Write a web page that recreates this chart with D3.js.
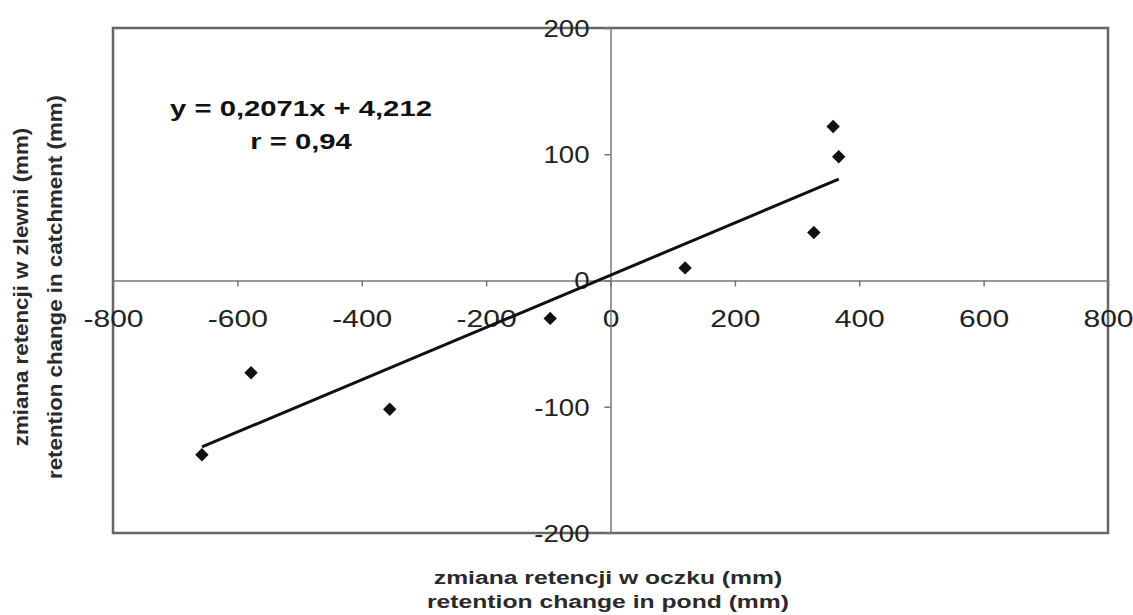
<!DOCTYPE html>
<html>
<head>
<meta charset="utf-8">
<script src="https://cdn.jsdelivr.net/npm/d3@7"></script>
<style>
  body { margin: 0; background: #fff; }
  svg { font-family: "Liberation Sans", Arial, sans-serif; }
</style>
</head>
<body>
<div id="chart"></div>
<script>
// retention change in pond (x) vs in catchment (y), mm
const pondChange = [-657, -578, -355, -97, 120, 327, 358, 367];
const catchmentChange = [-138, -73, -102, -30, 10, 38, 122, 98];

const xTicks = [-800, -600, -400, -200, 0, 200, 400, 600, 800];
const yTicks = [-200, -100, 0, 100, 200];

const slope = 0.2071;
const intercept = 4.212;
const eqLines = ["y = 0,2071x + 4,212", "r = 0,94"];

const xTitle = ["zmiana retencji w oczku (mm)", "retention change in pond (mm)"];
const yTitle = ["zmiana retencji w zlewni (mm)", "retention change in catchment (mm)"];

width = 1133;
height = 615;

// plain hyphen minus, like the original
function tickFmt(d) {
  return String(d);
}

const svg = d3.select("#chart")
  .append("svg")
  .attr("width", width)
  .attr("height", height);

const x = d3.scaleLinear().domain([-800, 800]).range([113, 1108]);
const y = d3.scaleLinear().domain([-200, 200]).range([533, 28]);

// plot frame
svg.append("rect")
  .attr("x", x(-800))
  .attr("y", y(200))
  .attr("width", x(800) - x(-800))
  .attr("height", y(-200) - y(200))
  .attr("fill", "none")
  .attr("stroke", "#666")
  .attr("stroke-width", 2.5);

// x axis through y = 0
const gx = svg.append("g")
  .attr("transform", `translate(0,${y(0)})`)
  .call(d3.axisBottom(x).tickValues(xTicks).tickFormat(tickFmt).tickSize(6).tickSizeOuter(0));
gx.select(".domain").attr("stroke", "#777").attr("stroke-width", 1.5);
gx.selectAll(".tick line").attr("stroke", "#777").attr("stroke-width", 1.5);
gx.selectAll(".tick text")
  .attr("y", 47)
  .attr("dy", null)
  .attr("transform", "scale(1.25,1)")
  .attr("fill", "#222")
  .style("font-size", "24px");

// y axis through x = 0
const gy = svg.append("g")
  .attr("transform", `translate(${x(0)},0)`)
  .call(d3.axisLeft(y).tickValues(yTicks).tickFormat(tickFmt).tickSize(6).tickSizeOuter(0));
gy.select(".domain").attr("stroke", "#777").attr("stroke-width", 1.5);
gy.selectAll(".tick line").attr("stroke", "#777").attr("stroke-width", 1.5);
gy.selectAll(".tick text")
  .attr("x", -21 / 1.15)
  .attr("dy", "0.35em")
  .attr("transform", "scale(1.15,1)")
  .attr("fill", "#222")
  .style("font-size", "24px");

// trend line over the data range
const xr = d3.extent(pondChange);
svg.append("path")
  .datum(xr.map(v => [v, slope * v + intercept]))
  .attr("fill", "none")
  .attr("stroke", "#111")
  .attr("stroke-width", 3)
  .attr("d", d3.line().x(d => x(d[0])).y(d => y(d[1])));

// diamond markers
svg.append("g")
  .selectAll("path")
  .data(pondChange.map((v, i) => [v, catchmentChange[i]]))
  .join("path")
    .attr("transform", d => `translate(${x(d[0])},${y(d[1])})`)
    .attr("d", d3.symbol(d3.symbolDiamond2, 115))
    .attr("fill", "#111");

// regression equation
svg.append("g")
  .selectAll("text")
  .data(eqLines)
  .join("text")
    .attr("transform", (d, i) => `translate(301,${i ? 149 : 116}) scale(1.33,1)`)
    .attr("text-anchor", "middle")
    .attr("font-weight", "bold")
    .style("font-size", "22px")
    .attr("fill", "#111")
    .text(d => d);

// axis titles
svg.append("g")
  .selectAll("text")
  .data(xTitle)
  .join("text")
    .attr("transform", (d, i) => `translate(608,${i ? 608 : 584}) scale(1.3,1)`)
    .attr("text-anchor", "middle")
    .attr("font-weight", "bold")
    .style("font-size", "19px")
    .attr("fill", "#2a2a2a")
    .text(d => d);

svg.append("g")
  .selectAll("text")
  .data(yTitle)
  .join("text")
    .attr("transform", (d, i) => `translate(${i ? 62 : 28},287) rotate(-90) scale(1.115,1)`)
    .attr("text-anchor", "middle")
    .attr("font-weight", "bold")
    .style("font-size", "20px")
    .attr("fill", "#2a2a2a")
    .text(d => d);
</script>
</body>
</html>
